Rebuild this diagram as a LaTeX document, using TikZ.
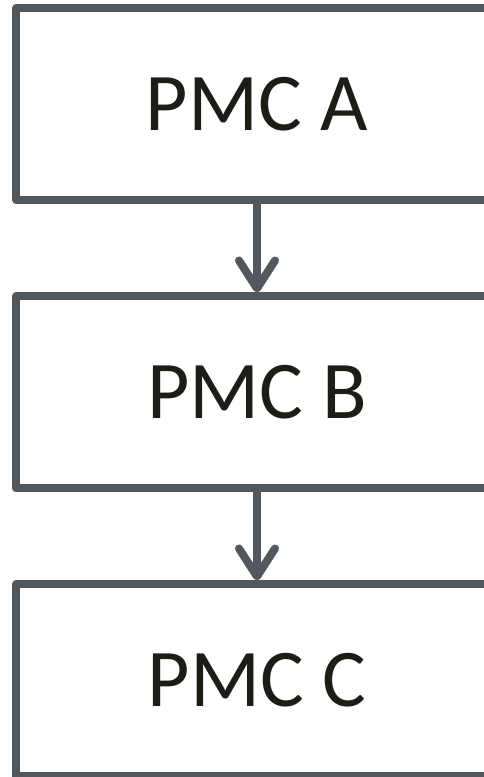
\documentclass[tikz,border=0pt]{standalone}
\usepackage{fontspec}
\setmainfont{Carlito}
\usetikzlibrary{arrows.meta}
\definecolor{edge}{RGB}{83,88,95}
\definecolor{ink}{RGB}{30,28,22}
\begin{document}
\begin{tikzpicture}[x=1pt,y=1pt,
  pmcbox/.style={draw=edge, line width=8pt, line join=round, fill=white,
    minimum width=482pt, minimum height=192pt, inner sep=0pt,
    text=ink, font=\fontsize{82}{90}\selectfont},
  flow/.style={draw=edge, line width=8pt,
    -{Straight Barb[length=28pt,width=36pt,round]}}]
  \useasboundingbox (0,0) rectangle (484,777);
  \node[pmcbox] (a) at (257,673) {PMC A};
  \node[pmcbox] (b) at (257,384.5) {PMC B};
  \node[pmcbox] (c) at (257,96.5) {PMC C};
  \draw[flow] (a.south) -- (b.north);
  \draw[flow] (b.south) -- (c.north);
\end{tikzpicture}
\end{document}
